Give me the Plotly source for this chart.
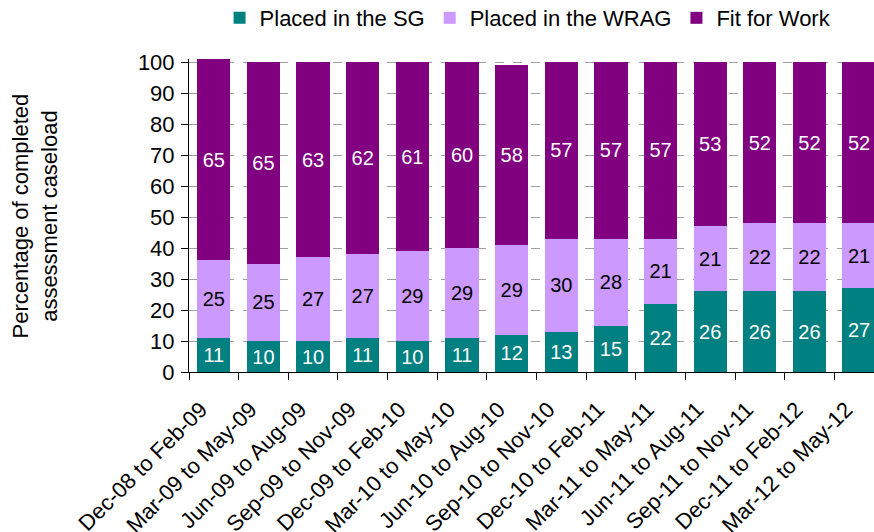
import plotly.graph_objects as go

categories = ["Dec-08 to Feb-09", "Mar-09 to May-09", "Jun-09 to Aug-09", "Sep-09 to Nov-09",
              "Dec-09 to Feb-10", "Mar-10 to May-10", "Jun-10 to Aug-10", "Sep-10 to Nov-10",
              "Dec-10 to Feb-11", "Mar-11 to May-11", "Jun-11 to Aug-11", "Sep-11 to Nov-11",
              "Dec-11 to Feb-12", "Mar-12 to May-12"]
sg = [11, 10, 10, 11, 10, 11, 12, 13, 15, 22, 26, 26, 26, 27]
wrag = [25, 25, 27, 27, 29, 29, 29, 30, 28, 21, 21, 22, 22, 21]
ffw = [65, 65, 63, 62, 61, 60, 58, 57, 57, 57, 53, 52, 52, 52]
y_ticks = list(range(0, 101, 10))

FONT = "Liberation Sans, Arial, sans-serif"

fig = go.Figure()
series = [("Placed in the SG", sg, "#008080", "white"),
          ("Placed in the WRAG", wrag, "#CC99FF", "black"),
          ("Fit for Work", ffw, "#800080", "white")]
for name, vals, color, tcol in series:
    fig.add_trace(go.Bar(
        name=name, x=categories, y=vals, marker_color=color, marker_line_width=0,
        text=vals, textposition="inside", insidetextanchor="middle",
        textfont=dict(color=tcol, size=20, family=FONT),
        constraintext="none",
    ))

fig.update_layout(
    barmode="stack", bargap=0.33,
    width=874, height=532,
    margin=dict(l=189, r=0, t=59, b=160, autoexpand=False),
    plot_bgcolor="white", paper_bgcolor="white",
    font=dict(family=FONT, size=22, color="black"),
    legend=dict(orientation="h", x=0.495, xanchor="center", y=1.131, yanchor="middle",
                font=dict(size=22), itemwidth=30, traceorder="normal",
                bgcolor="rgba(0,0,0,0)"),
    annotations=[dict(text="Percentage of completed<br>assessment caseload",
                      xref="paper", yref="paper", x=-0.225, y=0.5,
                      xanchor="center", yanchor="middle", textangle=-90,
                      showarrow=False, font=dict(size=22, family=FONT))],
)
fig.update_xaxes(
    range=[-0.5, 13.3], automargin=False,
    showline=True, linecolor="black", linewidth=1,
    ticks="outside", tickson="boundaries", ticklen=7, tickcolor="black",
    tickangle=-45, tickfont=dict(size=22), ticklabelstandoff=15, ticklabelshift=-13,
)
fig.update_yaxes(
    range=[0, 101], tickvals=y_ticks, automargin=False,
    showline=True, linecolor="black", linewidth=1,
    ticks="outside", ticklen=7, tickcolor="black", tickfont=dict(size=22),
    ticklabelstandoff=2,
    showgrid=True, gridcolor="#a0a0a0", griddash="dash", gridwidth=1,
    zeroline=False,
)
fig.write_html("out.html", config={"displayModeBar": False},
               post_script="document.body.style.margin='0';document.body.style.overflow='hidden';")
